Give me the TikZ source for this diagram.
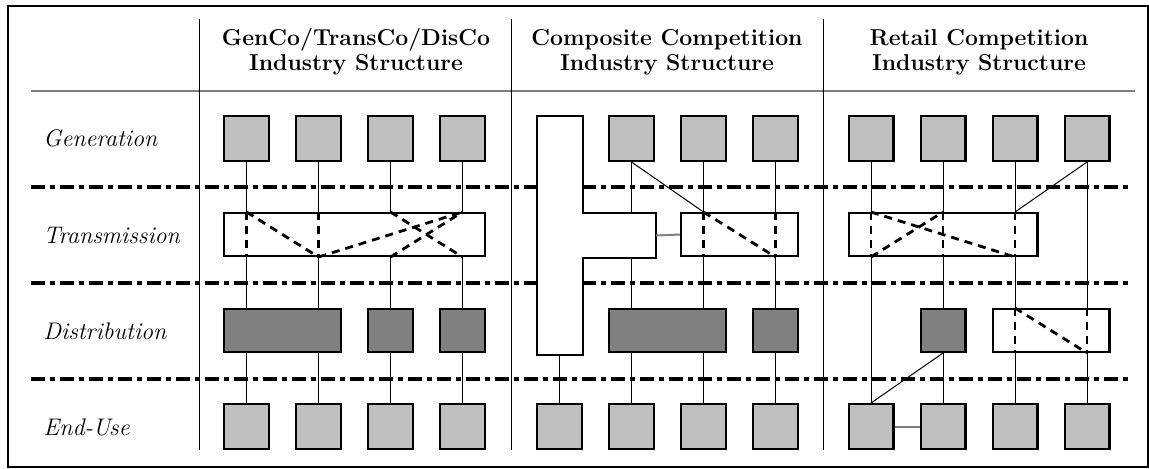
\documentclass[tikz,border=0pt]{standalone}
\begin{document}
\begin{tikzpicture}[x=0.5pt,y=-0.5pt]
		\tikzstyle{unit}=[draw=black,line width=1.2pt,fill=black!25,minimum width=22.3pt,minimum height=22.3pt,inner sep=0pt]
		\tikzstyle{distbox}=[unit,fill=black!50,minimum height=21.3pt]
		\tikzstyle{wirebox}=[unit,fill=white,minimum height=21.3pt]
		\tikzstyle{wire}=[draw=black,line width=0.5pt]
		\tikzstyle{route}=[draw=black,line width=1.4pt,dash pattern=on 4pt off 3pt]
		\tikzstyle{tie}=[draw=black!50,line width=1pt]
		\tikzstyle{tier}=[draw=black,line width=1.7pt,dash pattern=on 7pt off 2.5pt on 2.5pt off 2.5pt]
		\tikzstyle{rowlabel}=[anchor=west,inner sep=0pt,font=\fontsize{12}{14}\selectfont\itshape]
		\tikzstyle{header}=[align=center,inner sep=0pt,font=\fontsize{11.5}{12.5}\selectfont\bfseries]

		\useasboundingbox (0,0) rectangle (1149,468);
		\draw[line width=1.1pt] (8,6) rectangle (1148,467);

		% headings and row names
		 \node [header] (ha) at (356,52) {GenCo/TransCo/DisCo\\Industry Structure};
		 \node [header] (hb) at (667,52) {Composite Competition\\Industry Structure};
		 \node [header] (hc) at (979,52) {Retail Competition\\Industry Structure};
		 \node [rowlabel] (lgen) at (43,138) {Generation};
		 \node [rowlabel] (ltra) at (43,235) {Transmission};
		 \node [rowlabel] (ldis) at (43,331) {Distribution};
		 \node [rowlabel] (lend) at (43,427) {End-Use};

		 \draw[tie] (31,91) -- (1135,91);
		 \draw[line width=0.5pt] (199.5,19) -- (199.5,450);
		 \draw[line width=0.5pt] (511,19) -- (511,450);
		 \draw[line width=0.5pt] (823,19) -- (823,450);
		 \path[tier] (31,187) -- (1131,187);
		 \path[tier] (31,283) -- (1131,283);
		 \path[tier] (31,379) -- (1131,379);

		% GenCo/TransCo/DisCo
		 \node [unit] (ga1) at (246.5,138.5) {};
		 \node [unit] (ga2) at (318.5,138.5) {};
		 \node [unit] (ga3) at (390.5,138.5) {};
		 \node [unit] (ga4) at (462.5,138.5) {};
		 \node [wirebox,minimum width=130.3pt] (ta) at (354.5,234.5) {};
		 \node [distbox,minimum width=58.3pt] (da1) at (282.5,330.5) {};
		 \node [distbox] (da3) at (390.5,330.5) {};
		 \node [distbox] (da4) at (462.5,330.5) {};
		 \node [unit] (ea1) at (246.5,426.5) {};
		 \node [unit] (ea2) at (318.5,426.5) {};
		 \node [unit] (ea3) at (390.5,426.5) {};
		 \node [unit] (ea4) at (462.5,426.5) {};

		 \path[wire] (ga1.south) -- (ga1 |- ta.north);
		 \path[wire] (ga2.south) -- (ga2 |- ta.north);
		 \path[wire] (ga3.south) -- (ga3 |- ta.north);
		 \path[wire] (ga4.south) -- (ga4 |- ta.north);
		 \path[route] (ga1 |- ta.north) -- (ga1 |- ta.south);
		 \path[route] (ga2 |- ta.north) -- (ga2 |- ta.south);
		 \path[route] (ga1 |- ta.north) -- (ga2 |- ta.south);
		 \path[route] (ga2 |- ta.south) -- (ga4 |- ta.north);
		 \path[route] (ga3 |- ta.north) -- (ga4 |- ta.south);
		 \path[route] (ga3 |- ta.south) -- (ga4 |- ta.north);
		 \path[wire] (ga1 |- ta.south) -- (ga1 |- da1.north);
		 \path[wire] (ga2 |- ta.south) -- (ga2 |- da1.north);
		 \path[wire] (ga3 |- ta.south) -- (da3.north);
		 \path[wire] (ga4 |- ta.south) -- (da4.north);
		 \path[wire] (ga1 |- da1.south) -- (ea1.north);
		 \path[wire] (ga2 |- da1.south) -- (ea2.north);
		 \path[wire] (da3.south) -- (ea3.north);
		 \path[wire] (da4.south) -- (ea4.north);

		% Composite Competition
		 \draw[line width=1.2pt,fill=white] (537,116) -- (583,116) -- (583,213) -- (656,213)
		   -- (656,258) -- (583,258) -- (583,355) -- (537,355) -- cycle;
		 \coordinate (tup) at (631.5,213);
		 \coordinate (tdown) at (631.5,258);
		 \coordinate (tside) at (656,235.5);
		 \coordinate (tfoot) at (559.5,355);
		 \node [unit] (gb2) at (631.5,138.5) {};
		 \node [unit] (gb3) at (703.5,138.5) {};
		 \node [unit] (gb4) at (775.5,138.5) {};
		 \node [wirebox,minimum width=58.3pt] (tb) at (739.5,234.5) {};
		 \node [distbox,minimum width=58.3pt] (db2) at (667.5,330.5) {};
		 \node [distbox] (db4) at (775.5,330.5) {};
		 \node [unit] (eb1) at (559.5,426.5) {};
		 \node [unit] (eb2) at (631.5,426.5) {};
		 \node [unit] (eb3) at (703.5,426.5) {};
		 \node [unit] (eb4) at (775.5,426.5) {};

		 \path[wire] (gb2.south) -- (tup);
		 \path[wire] (gb2.south) -- (gb3 |- tb.north);
		 \path[wire] (gb3.south) -- (gb3 |- tb.north);
		 \path[wire] (gb4.south) -- (gb4 |- tb.north);
		 \path[route] (gb3 |- tb.north) -- (gb3 |- tb.south);
		 \path[route] (gb4 |- tb.north) -- (gb4 |- tb.south);
		 \path[route] (gb3 |- tb.north) -- (gb4 |- tb.south);
		 \path[tie] (tside) -- (tb.west);
		 \path[wire] (tdown) -- (gb2 |- db2.north);
		 \path[wire] (gb3 |- tb.south) -- (gb3 |- db2.north);
		 \path[wire] (gb4 |- tb.south) -- (db4.north);
		 \path[wire] (tfoot) -- (eb1.north);
		 \path[wire] (gb2 |- db2.south) -- (eb2.north);
		 \path[wire] (gb3 |- db2.south) -- (eb3.north);
		 \path[wire] (db4.south) -- (eb4.north);

		% Retail Competition
		 \node [unit] (gc1) at (871,138.5) {};
		 \node [unit] (gc2) at (943,138.5) {};
		 \node [unit] (gc3) at (1015,138.5) {};
		 \node [unit] (gc4) at (1087,138.5) {};
		 \node [wirebox,minimum width=94.3pt] (tc) at (943,234.5) {};
		 \node [distbox] (dc2) at (943,330.5) {};
		 \node [wirebox,minimum width=58.3pt] (dc3) at (1051,330.5) {};
		 \node [unit] (ec1) at (871,426.5) {};
		 \node [unit] (ec2) at (943,426.5) {};
		 \node [unit] (ec3) at (1015,426.5) {};
		 \node [unit] (ec4) at (1087,426.5) {};

		 \path[wire] (gc1.south) -- (gc1 |- tc.north);
		 \path[wire] (gc2.south) -- (gc2 |- tc.north);
		 \path[wire] (gc3.south) -- (gc3 |- tc.north);
		 \path[wire] (gc4.south) -- (gc3 |- tc.north);
		 \path[wire] (gc4.south) -- (gc4 |- dc3.north);
		 \path[route] (gc1 |- tc.north) -- (gc1 |- tc.south);
		 \path[route] (gc2 |- tc.north) -- (gc2 |- tc.south);
		 \path[route] (gc3 |- tc.north) -- (gc3 |- tc.south);
		 \path[route] (gc1 |- tc.north) -- (gc3 |- tc.south);
		 \path[route] (gc1 |- tc.south) -- (gc2 |- tc.north);
		 \path[wire] (gc1 |- tc.south) -- (ec1.north);
		 \path[wire] (gc2 |- tc.south) -- (dc2.north);
		 \path[wire] (gc3 |- tc.south) -- (gc3 |- dc3.north);
		 \path[route] (gc3 |- dc3.north) -- (gc3 |- dc3.south);
		 \path[route] (gc4 |- dc3.north) -- (gc4 |- dc3.south);
		 \path[route] (gc3 |- dc3.north) -- (gc4 |- dc3.south);
		 \path[wire] (dc2.south) -- (ec1.north);
		 \path[wire] (dc2.south) -- (ec2.north);
		 \path[wire] (gc3 |- dc3.south) -- (ec3.north);
		 \path[wire] (gc4 |- dc3.south) -- (ec4.north);
		 \path[tie] (ec1.east) -- (ec2.west);

\end{tikzpicture}
\end{document}
